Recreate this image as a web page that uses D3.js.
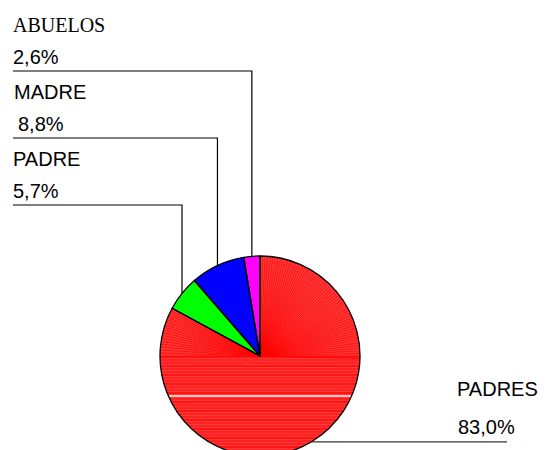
<!DOCTYPE html>
<html>
<head>
<meta charset="utf-8">
<script src="https://cdn.jsdelivr.net/npm/d3@7"></script>
<style>
  html, body { margin: 0; padding: 0; background: #fff; }
  svg { display: block; }
</style>
</head>
<body>
<svg id="chart" width="547" height="450"></svg>
<script>
// Who the children live with (share of respondents, %)
const categories = ["PADRES", "PADRE", "MADRE", "ABUELOS"];
const values = [83.0, 5.7, 8.8, 2.6];
const colors = ["#ff0000", "#00ff00", "#0000ff", "#ff00ff"];

const W = 547, H = 450;
const cx = 260, cy = 356, R = 100;

const svg = d3.select("#chart");
const g = svg.append("g").attr("transform", `translate(${cx},${cy})`);

const pie = d3.pie().sort(null).value(d => d.value).startAngle(0).endAngle(2 * Math.PI);
const data = categories.map((c, i) => ({ name: c, value: values[i], color: colors[i] }));
const arcs = pie(data);

const arc = d3.arc().innerRadius(0).outerRadius(R);
const rim = d3.arc().innerRadius(R).outerRadius(R);

const fmt = v => d3.format(".1f")(v).replace(".", ",") + "%";

// slices
g.selectAll("path.slice")
  .data(arcs)
  .join("path")
  .attr("class", "slice")
  .attr("d", arc)
  .attr("fill", d => d.data.color);

// banded shading inside the large slice
const big = arcs[0];
const defs = svg.append("defs");
defs.append("clipPath").attr("id", "bigClip")
  .append("path").attr("d", arc(big));
const tex = g.append("g").attr("clip-path", "url(#bigClip)");
// lighter base tone
tex.append("rect")
  .attr("x", -R).attr("y", -R).attr("width", 2 * R).attr("height", 2 * R)
  .attr("fill", "#ffffff").attr("fill-opacity", 0.22);
// fan of fine rays in the upper right
for (let a = 0; a <= Math.PI / 2 + 0.05; a += Math.PI / 120) {
  tex.append("line")
    .attr("x1", 0).attr("y1", 0)
    .attr("x2", Math.sin(a) * R * 1.1).attr("y2", -Math.cos(a) * R * 1.1)
    .attr("stroke", "#ff0000").attr("stroke-width", 0.8).attr("stroke-opacity", 0.8);
}
// slanted strokes on the upper left
for (let y = -60; y <= 0; y += 3) {
  tex.append("line")
    .attr("x1", -R).attr("y1", y)
    .attr("x2", 0).attr("y2", 0)
    .attr("stroke", "#ff0000").attr("stroke-width", 0.9).attr("stroke-opacity", 0.8);
}
// horizontal banding through the lower half
for (let y = 1; y <= R; y += 3) {
  tex.append("line")
    .attr("x1", -R).attr("x2", R)
    .attr("y1", y).attr("y2", y)
    .attr("stroke", "#ff0000").attr("stroke-width", y % 9 === 1 ? 1.4 : 0.9).attr("stroke-opacity", 0.85);
}
// light seam across the slice
tex.append("line")
  .attr("x1", -R).attr("x2", R)
  .attr("y1", 40).attr("y2", 40)
  .attr("stroke", "#ffffff").attr("stroke-width", 1.5);

// slice outlines
g.selectAll("path.edge")
  .data(arcs)
  .join("path")
  .attr("class", "edge")
  .attr("d", arc)
  .attr("fill", "none")
  .attr("stroke", "#000")
  .attr("stroke-width", 1.3)
  .attr("stroke-linejoin", "round");

// label layout: left-side callouts stacked, big slice to the right
const layout = {
  ABUELOS: { lineY: 71, textX: 13, valX: 13, serif: true },
  MADRE:   { lineY: 138, textX: 14, valX: 18 },
  PADRE:   { lineY: 205, textX: 13, valX: 13 },
  PADRES:  { lineY: null, textX: 457, valX: 458, nameY: 396, valY: 434, endX: 507 }
};

const lab = svg.append("g");
arcs.forEach(d => {
  const [px, py] = rim.centroid(d);
  const ax = cx + px, ay = cy + py;
  const L = layout[d.data.name];
  if (d.data.name === "PADRES") {
    lab.append("path")
      .attr("d", `M${ax},${ay}H${L.endX}`)
      .attr("fill", "none").attr("stroke", "#333").attr("stroke-width", 1.3);
    lab.append("text").attr("x", L.textX).attr("y", L.nameY)
      .attr("font-family", "Liberation Sans, Arial, sans-serif").attr("font-size", 20)
      .text(d.data.name);
    lab.append("text").attr("x", L.valX).attr("y", L.valY)
      .attr("font-family", "Liberation Sans, Arial, sans-serif").attr("font-size", 20)
      .text(fmt(d.data.value));
  } else {
    lab.append("path")
      .attr("d", `M13,${L.lineY}H${ax}V${ay}`)
      .attr("fill", "none").attr("stroke", "#000").attr("stroke-width", 1.2);
    lab.append("text").attr("x", L.textX).attr("y", L.lineY - 39)
      .attr("font-family", L.serif ? "'Liberation Serif', 'Times New Roman', serif" : "Liberation Sans, Arial, sans-serif")
      .attr("font-size", L.serif ? 20 : 20)
      .text(d.data.name);
    lab.append("text").attr("x", L.valX).attr("y", L.lineY - 7)
      .attr("font-family", "Liberation Sans, Arial, sans-serif").attr("font-size", 20)
      .text(fmt(d.data.value));
  }
});
</script>
</body>
</html>
